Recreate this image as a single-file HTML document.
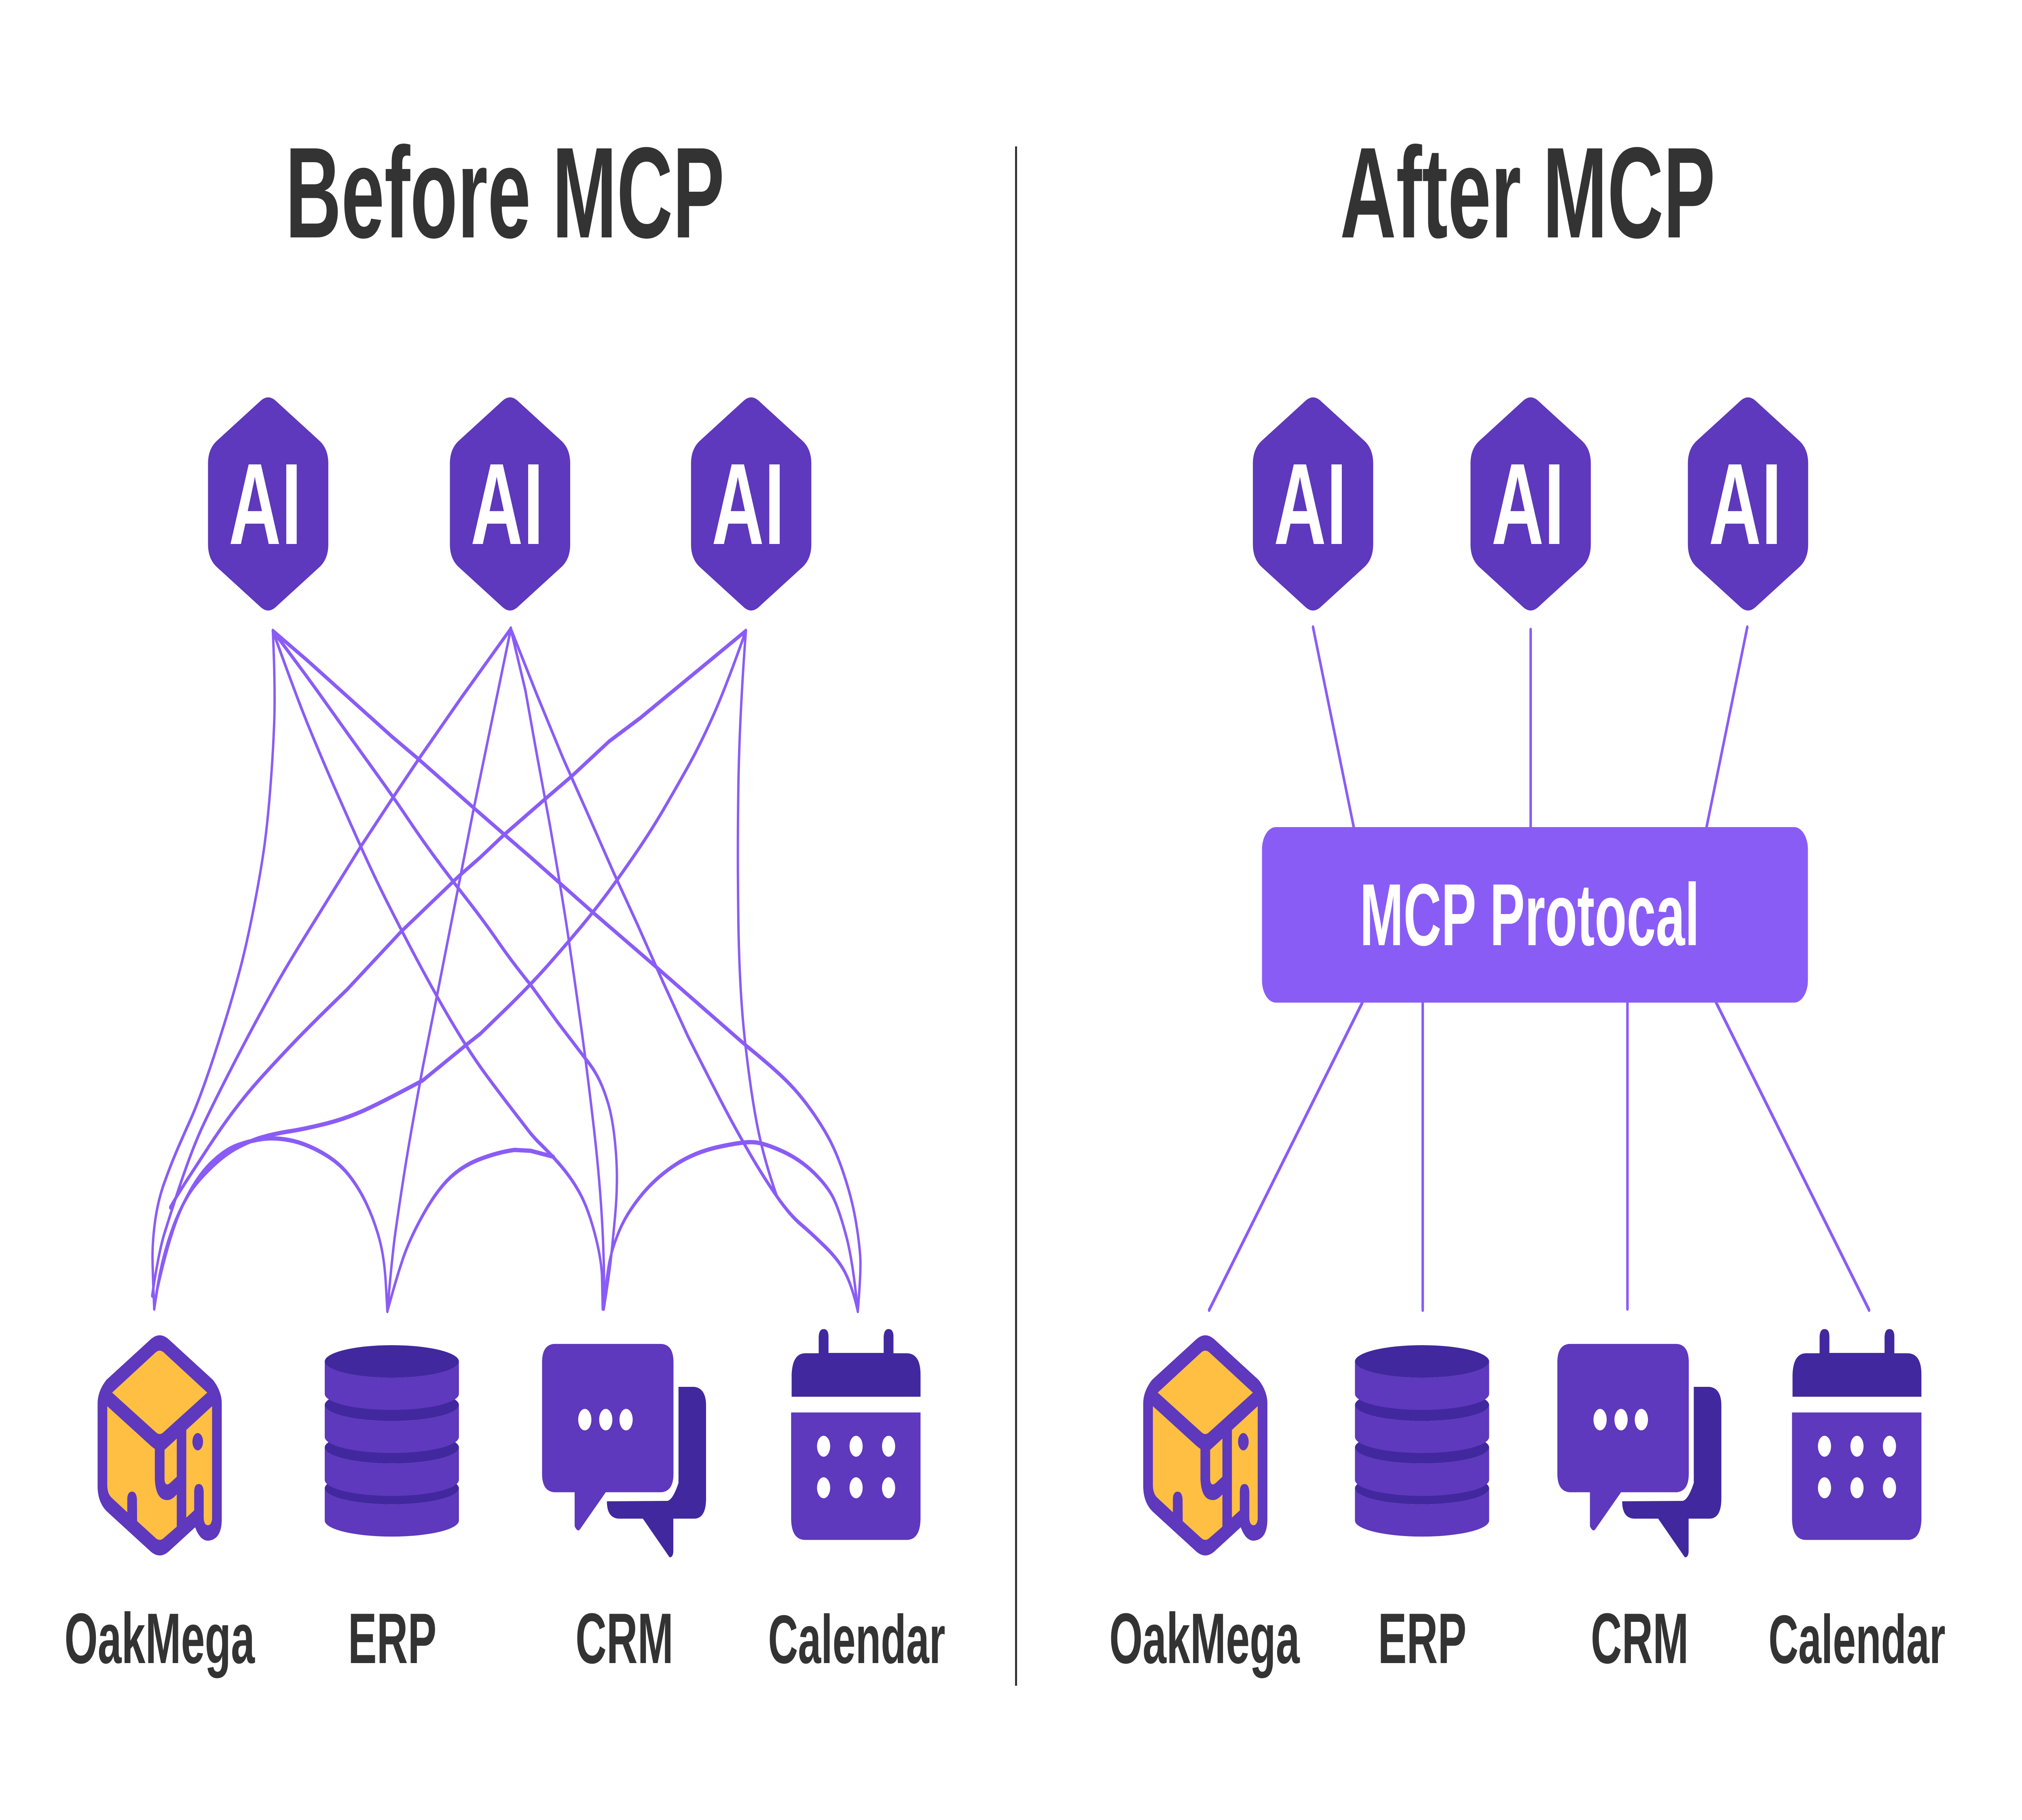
<!DOCTYPE html>
<html lang="en">
<head>
<meta charset="utf-8">
<title>Before MCP / After MCP</title>
<style>
html,body{margin:0;padding:0;background:#fff;width:100%;height:100%}
svg{display:block;position:absolute;left:0;top:0;width:100%;height:100%}
text{font-family:"Liberation Sans",Arial,sans-serif;font-weight:bold}
.t{fill:#333333}
.w{fill:#ffffff}
.l{fill:none;stroke:#8a5cf6;stroke-width:9.3;stroke-linecap:round;stroke-linejoin:round}
</style>
</head>
<body>
<svg xmlns="http://www.w3.org/2000/svg" viewBox="0 0 8000 4500" preserveAspectRatio="none">
<defs>
<path id="hex" fill="#5e38bd" d="M30,-255 L205,-155 Q238,-135 238,-100 L238,100 Q238,135 205,155 L30,255 Q0,272 -30,255 L-205,155 Q-238,135 -238,100 L-238,-100 Q-238,-135 -205,-155 L-30,-255 Q0,-272 30,-255Z"/>

<g id="oak">
<path fill="#5e38bd" d="M465,218 L190,415 Q135,470 135,530 L135,930 Q135,1010 195,1055 L465,1248 Q520,1285 575,1248 L740,1130 Q770,1195 820,1195 Q905,1190 905,1090 L905,530 Q905,470 850,415 L575,218 Q520,180 465,218Z"/>
<path fill="#ffbf43" d="M225,477 L495,282 Q520,265 545,282 L815,477 L545,668 Q520,688 495,668Z"/>
<path fill="#ffbf43" d="M195,543 L465,735 Q480,745 490,750 L490,895 Q495,1000 570,998 Q595,998 626,970 L626,1127 L545,1182 Q520,1200 495,1182 L380,1100 L379,993 Q375,957 349,957 Q320,957 319,993 L319,1057 L220,985 Q195,965 195,925Z"/>
<path fill="#ffbf43" d="M550,755 L626,700 L626,885 L585,915 Q555,935 550,900Z"/>
<path fill="#ffbf43" d="M685,658 L845,543 L845,1090 Q840,1120 820,1120 Q795,1120 793,1085 L793,957 Q790,920 763,920 Q735,920 734,957 L734,1048 L685,1083Z"/>
<ellipse cx="756" cy="715" rx="33" ry="42" fill="#5e38bd"/>
</g>

<g id="erp">
<ellipse cx="549" cy="941" rx="416" ry="78" fill="#41289e"/>
<path fill="#5e38bd" d="M133,941 L133,1097 A416,78 0 0 0 965,1097 L965,941 A416,78 0 0 1 133,941Z"/>
<ellipse cx="549" cy="743" rx="416" ry="78" fill="#41289e"/>
<path fill="#5e38bd" d="M133,743 L133,900 A416,78 0 0 0 965,900 L965,743 A416,78 0 0 1 133,743Z"/>
<ellipse cx="549" cy="537" rx="416" ry="78" fill="#41289e"/>
<path fill="#5e38bd" d="M133,537 L133,692 A416,78 0 0 0 965,692 L965,537 A416,78 0 0 1 133,537Z"/>
<ellipse cx="549" cy="326" rx="416" ry="79" fill="#41289e"/>
<path fill="#5e38bd" d="M133,326 L133,483 A416,78 0 0 0 965,483 L965,326 A416,79 0 0 1 133,326Z"/>
</g>

<g id="crm">
<path fill="#41289e" d="M916,449 L1012,449 Q1087,455 1087,540 L1087,995 Q1085,1088 1012,1088 L884,1088 L884,1250 Q880,1278 860,1275 L695,1088 L545,1088 Q472,1085 472,1004 L845,1002 Q880,1000 916,915Z"/>
<path fill="#5e38bd" d="M145,241 L810,241 Q885,245 885,330 L885,870 Q885,955 810,960 L465,960 L305,1140 Q290,1155 272,1125 L272,960 L145,960 Q70,955 70,870 L70,330 Q70,245 145,241Z"/>
<ellipse cx="335" cy="608" rx="41" ry="52" fill="#fff"/>
<ellipse cx="465" cy="608" rx="41" ry="52" fill="#fff"/>
<ellipse cx="591" cy="608" rx="41" ry="52" fill="#fff"/>
</g>

<g id="cal">
<path fill="#41289e" d="M259,568 L259,445 Q265,327 365,327 L469,327 L469,235 Q472,193 507,193 Q545,193 545,235 L545,325 L973,325 L973,235 Q976,193 1011,193 Q1049,193 1049,235 L1049,327 L1155,327 Q1259,330 1259,445 L1259,568Z"/>
<path fill="#5e38bd" d="M255,655 L1259,655 L1259,1245 Q1255,1361 1150,1361 L365,1361 Q258,1361 255,1245Z"/>
<g fill="#fff">
<ellipse cx="507" cy="842" rx="51" ry="58"/><ellipse cx="759" cy="842" rx="51" ry="58"/><ellipse cx="1011" cy="842" rx="51" ry="58"/>
<ellipse cx="507" cy="1072" rx="51" ry="58"/><ellipse cx="759" cy="1072" rx="51" ry="58"/><ellipse cx="1011" cy="1072" rx="51" ry="58"/>
</g>
</g>
</defs>

<rect width="8000" height="4500" fill="#fff"/>

<!-- Titles -->
<text class="t" x="1129" y="587" font-size="320" textLength="1737" lengthAdjust="spacingAndGlyphs">Before MCP</text>
<text class="t" x="5302" y="587" font-size="320" textLength="1484" lengthAdjust="spacingAndGlyphs">After MCP</text>

<!-- Divider -->
<line x1="4020" y1="362" x2="4020" y2="4168" stroke="#333333" stroke-width="8"/>

<!-- Left hexagons -->
<use href="#hex" transform="translate(1061,1246)"/>
<use href="#hex" transform="translate(2018,1246)"/>
<use href="#hex" transform="translate(2972,1246)"/>
<text class="w" x="905" y="1345" font-size="286" textLength="288" lengthAdjust="spacing">AI</text>
<text class="w" x="1862" y="1345" font-size="286" textLength="288" lengthAdjust="spacing">AI</text>
<text class="w" x="2816" y="1345" font-size="286" textLength="288" lengthAdjust="spacing">AI</text>

<!-- Right hexagons -->
<use href="#hex" transform="translate(5195,1246)"/>
<use href="#hex" transform="translate(6056,1246)"/>
<use href="#hex" transform="translate(6916,1246)"/>
<text class="w" x="5040" y="1345" font-size="286" textLength="288" lengthAdjust="spacing">AI</text>
<text class="w" x="5901" y="1345" font-size="286" textLength="288" lengthAdjust="spacing">AI</text>
<text class="w" x="6761" y="1345" font-size="286" textLength="288" lengthAdjust="spacing">AI</text>

<!-- Tangled connectors, left part -->
<g transform="translate(500,1500) scale(1.0204,1.148)">
<path class="l" d="M568,52 Q578,180 573,252 Q568,325 556.5,402.5 Q545,480 530,535 Q515,590 490,660 Q465,730 440,782.5 Q415,835 390,880 Q365,925 340,967.5 Q315,1010 290,1047.5 Q265,1085 242.5,1112.5 Q220,1140 195,1172.5 Q170,1205 146,1242.5 Q122,1280 111,1325 Q100,1370 101.5,1410 Q103,1450 108,1512"/>
<path class="l" d="M568,52 Q660,195 710,262.5 Q760,330 807.5,390 Q855,450 907.5,515 Q960,580 1010,635 Q1060,690 1105,737.5 Q1150,785 1200,835 Q1250,885 1300,930 Q1350,975 1400,1012.5 Q1450,1050 1509,1092.5 L1568,1135"/>
<path class="l" d="M568,52 Q700,150 752.5,191 Q805,232 855,271 Q905,310 970,360 Q1035,410 1092.5,457.5 Q1150,505 1200,542.5 Q1250,580 1320,630 Q1390,680 1442.5,722.5 Q1495,765 1568,815"/>
<polyline class="l" points="568,52 700,115 830,180 1030,280 1130,327 1350,435 1468,492 1568,540"/>
<path class="l" d="M1491,47 L1300,195 L1135,327 L1035,410 L905,520 Q760,650 687.5,715 Q615,780 565,830 Q515,880 465,932.5 Q415,985 367.5,1037.5 Q320,1090 295,1120 Q270,1150 245,1187.5 Q220,1225 195,1267.5 Q170,1310 147.5,1350 Q125,1390 100,1484"/>
<path class="l" d="M1491,47 L1345,440 L1200,850 L1150,990 Q1100,1140 1077.5,1220 Q1055,1300 1042.5,1350 Q1030,1400 1012,1517"/>
<path class="l" d="M1372,540 L1290,580 L1065,700 L855,825 Q710,903 637.5,945.5 Q565,988 515,1019 Q465,1050 417.5,1085 Q370,1120 320,1162.5 Q270,1205 235,1235 Q200,1265 170,1294"/>
<path class="l" d="M1372,920 L1315,945 L1150,1020 Q1000,1065 925,1084 Q850,1103 770,1114 Q690,1125 632.5,1130 Q575,1135 527.5,1142.5 Q480,1150 430,1165 Q380,1180 325,1210 Q270,1240 242.5,1265 Q215,1290 192.5,1320 Q170,1350 147.5,1395 Q125,1440 108,1512"/>
<path class="l" d="M108,1512 L120,1470 Q170,1345 220,1287.5 Q270,1230 325,1200 Q380,1170 430,1160 Q480,1150 527.5,1146.5 Q575,1143 632.5,1149 Q690,1155 755,1175 Q820,1195 860,1222.5 Q900,1250 930,1285 Q960,1320 980,1360 Q1000,1400 1006,1458 L1012,1517"/>
<path class="l" d="M1012,1517 Q1050,1440 1075,1400 Q1100,1360 1150,1310 Q1200,1260 1250,1232.5 Q1300,1205 1370,1190 Q1440,1175 1505,1170 L1568,1172"/>
</g>

<!-- Tangled connectors, right part -->
<g transform="translate(1900,1500) scale(1.0204,1.148)">
<path class="l" d="M196,1135 L220,1150 Q285,1185 325,1212.5 Q365,1240 392.5,1270 Q420,1300 444,1350 Q468,1400 472,1440 L475,1512"/>
<path class="l" d="M196,1172 L285,1185"/>
<path class="l" d="M196,815 L300,895 L410,975 Q440,995 460,1017.5 Q480,1040 496,1070 Q512,1100 521,1145 Q530,1190 530,1230 Q530,1270 522.5,1315 Q515,1360 507.5,1400 Q500,1440 479,1512"/>
<path class="l" d="M196,540 L440,660 L680,775 L1030,945 Q1130,990 1185,1020 Q1240,1050 1290,1090 Q1340,1130 1367.5,1162.5 Q1395,1195 1420,1240 Q1445,1285 1457.5,1327.5 Q1470,1370 1473.5,1400 Q1477,1430 1464,1517"/>
<polyline class="l" points="1030,52 860,130 620,240 500,290 355,365 250,415 95,490 0,540"/>
<path class="l" d="M1030,52 Q955,170 905,232.5 Q855,295 807.5,342.5 Q760,390 710,437.5 Q660,485 595,537.5 Q530,590 482.5,625 Q435,660 390,690 Q345,720 270,767.5 Q195,815 97.5,867.5 L0,920"/>
<path class="l" d="M118,47 L175,180 L220,320 L270,470 Q320,630 342.5,715 Q365,800 390,900 Q415,1000 440,1120 Q465,1240 474,1340 Q483,1440 479,1512"/>
<path class="l" d="M118,47 L220,190 L320,325 L420,450 L515,570 L610,685 L710,810 L805,925 Q905,1035 952.5,1085 Q1000,1135 1050,1182.5 Q1100,1230 1150,1270 Q1200,1310 1242.5,1330 Q1285,1350 1340,1380 Q1395,1410 1420,1440 Q1445,1470 1464,1517"/>
<path class="l" d="M1030,52 Q1005,240 1001,385 Q997,530 1001,680 Q1005,830 1027.5,940 Q1050,1050 1075,1120 Q1100,1190 1150,1270"/>
<path class="l" d="M479,1512 Q490,1440 502.5,1407.5 Q515,1375 542.5,1340 Q570,1305 625,1267.5 Q680,1230 755,1202.5 Q830,1175 925,1163.5 Q1020,1152 1060,1153.5 Q1100,1155 1170,1172.5 Q1240,1190 1295,1220 Q1350,1250 1372.5,1277.5 Q1395,1305 1420,1357.5 Q1445,1410 1464,1517"/>
</g>

<!-- Right connectors -->
<g stroke="#8a5cf6" stroke-width="10" stroke-linecap="round" fill="none">
<line x1="5195" y1="1551" x2="5356" y2="2045"/>
<line x1="6056" y1="1557" x2="6056" y2="2045"/>
<line x1="6913" y1="1551" x2="6752" y2="2045"/>
<line x1="5390" y1="2479" x2="4784" y2="3239"/>
<line x1="5629" y1="2479" x2="5629" y2="3239"/>
<line x1="6439" y1="2479" x2="6439" y2="3236"/>
<line x1="6790" y1="2479" x2="7395" y2="3239"/>
</g>

<!-- MCP box -->
<rect x="4993" y="2045" width="2160" height="434" rx="55" ry="55" fill="#8a5cf6"/>
<text class="w" x="5380" y="2337" font-size="218" textLength="1344" lengthAdjust="spacingAndGlyphs">MCP Protocal</text>

<!-- Left icons -->
<use href="#oak" transform="translate(300,3200) scale(.638,.51)"/>
<use href="#erp" transform="translate(1200,3200) scale(.638,.51)"/>
<use href="#crm" transform="translate(2100,3200) scale(.638,.51)"/>
<use href="#cal" transform="translate(3000,3200) scale(.51,.4464)"/>

<!-- Right icons -->
<use href="#oak" transform="translate(4437,3200) scale(.638,.51)"/>
<use href="#erp" transform="translate(5276,3200) scale(.638,.51)"/>
<use href="#crm" transform="translate(6117,3200) scale(.638,.51)"/>
<use href="#cal" transform="translate(6960,3200) scale(.51,.4464)"/>

<!-- Left labels -->
<text class="t" x="255" y="4112" font-size="177" textLength="753" lengthAdjust="spacingAndGlyphs">OakMega</text>
<text class="t" x="1377" y="4112" font-size="177" textLength="350" lengthAdjust="spacingAndGlyphs">ERP</text>
<text class="t" x="2277" y="4112" font-size="177" textLength="387" lengthAdjust="spacingAndGlyphs">CRM</text>
<text class="t" x="3039" y="4112" font-size="170" textLength="701" lengthAdjust="spacingAndGlyphs">Calendar</text>

<!-- Right labels -->
<text class="t" x="4389" y="4112" font-size="177" textLength="753" lengthAdjust="spacingAndGlyphs">OakMega</text>
<text class="t" x="5452" y="4112" font-size="177" textLength="350" lengthAdjust="spacingAndGlyphs">ERP</text>
<text class="t" x="6294" y="4112" font-size="177" textLength="387" lengthAdjust="spacingAndGlyphs">CRM</text>
<text class="t" x="6997" y="4112" font-size="170" textLength="700" lengthAdjust="spacingAndGlyphs">Calendar</text>
</svg>
</body>
</html>
